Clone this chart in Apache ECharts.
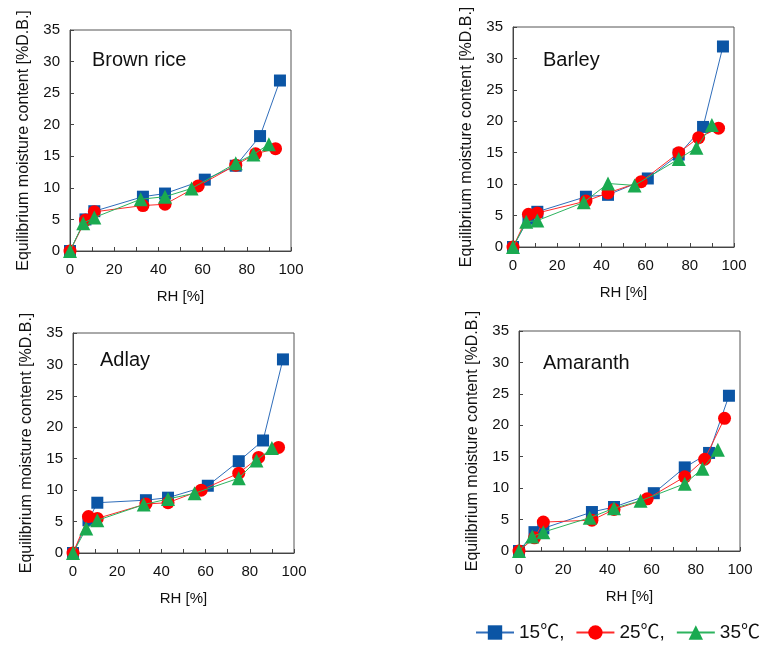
<!DOCTYPE html>
<html><head><meta charset="utf-8">
<script src="https://cdn.jsdelivr.net/npm/echarts@6/dist/echarts.min.js"></script>
<style>html,body{margin:0;padding:0;background:#fff}#c{width:770px;height:648px}</style>
</head><body><div id="c"></div>
<script>
// RH values per temperature
const rh15 = [0, 7, 11, 33, 43, 61, 75, 86, 95];
const rh25 = [0, 7, 11, 33, 43, 58, 75, 84, 93];
const rh35 = [0, 6, 11, 32, 43, 55, 75, 83, 90];
// Brown rice
const br15 = [0, 5.0, 6.3, 8.6, 9.1, 11.3, 13.5, 18.2, 27.0];
const br25 = [0, 4.9, 6.2, 7.2, 7.4, 10.3, 13.6, 15.4, 16.2];
const br35 = [0, 4.4, 5.3, 8.2, 8.6, 9.9, 13.9, 15.3, 16.9];
// Barley
const ba15 = [0, 4.5, 5.6, 8.0, 8.3, 10.9, 14.7, 19.1, 31.9];
const ba25 = [0, 5.2, 5.4, 7.3, 8.6, 10.4, 15.0, 17.4, 18.9];
const ba35 = [0, 4.0, 4.2, 7.1, 10.1, 9.8, 14.0, 15.8, 19.4];
// Adlay
const ad15 = [0, 5.2, 8.0, 8.4, 8.8, 10.7, 14.6, 17.9, 30.8];
const ad25 = [0, 5.8, 5.5, 7.8, 8.0, 10.0, 12.7, 15.2, 16.8];
const ad35 = [0, 3.9, 5.2, 7.7, 8.6, 9.5, 11.9, 14.7, 16.7];
// Amaranth
const am15 = [0, 3.0, 3.6, 6.2, 7.0, 9.2, 13.3, 15.6, 24.7];
const am25 = [0, 2.1, 4.6, 4.9, 6.6, 8.3, 11.8, 14.6, 21.1];
const am35 = [0, 2.3, 3.0, 5.3, 6.8, 8.0, 10.7, 13.1, 16.1];

const panelNames = ['Brown rice', 'Barley', 'Adlay', 'Amaranth'];
const seriesNames = ['15℃,', '25℃,', '35℃'];
const xName = 'RH [%]';
const yName = 'Equilibrium moisture content [%D.B.]';

const panels = [[br15, br25, br35], [ba15, ba25, ba35], [ad15, ad25, ad35], [am15, am25, am35]];
const rhs = [rh15, rh25, rh35];

const grids = [
  {left: 70, top: 30, width: 221, height: 221},
  {left: 513, top: 27, width: 221, height: 220},
  {left: 73, top: 333, width: 221, height: 220},
  {left: 519, top: 331, width: 221, height: 220}
];
const titlePos = [[92, 60], [543, 60], [100, 360], [543, 363]];

const font = 'Liberation Sans, Arial, Noto Sans CJK JP, sans-serif';
const styles = [
  {symbol: 'rect', size: 12, color: '#0B55A5', line: '#2F6DBA'},
  {symbol: 'circle', size: 13, color: '#FF0000', line: '#FF2A2A'},
  {symbol: 'triangle', size: 14, color: '#1AAA50', line: '#2DB35E'}
];

const xAxes = [], yAxes = [], series = [], graphics = [];
grids.forEach((g, i) => {
  g.show = true; g.borderColor = '#555'; g.borderWidth = 1; g.backgroundColor = '#fff';
  xAxes.push({
    type: 'value', gridIndex: i, min: 0, max: 100, interval: 10,
    name: xName, nameLocation: 'middle', nameGap: 38,
    nameTextStyle: {fontSize: 15, color: '#111', fontFamily: font},
    axisLine: {show: true, lineStyle: {color: '#444'}},
    axisTick: {show: true, inside: true, length: 4, lineStyle: {color: '#444'}},
    axisLabel: {fontSize: 15, color: '#111', fontFamily: font, margin: 11,
      formatter: v => (v % 20 === 0 ? String(v) : '')},
    splitLine: {show: false}
  });
  yAxes.push({
    type: 'value', gridIndex: i, min: 0, max: 35, interval: 5,
    name: yName, nameLocation: 'middle', nameGap: 38, nameRotate: 90,
    nameTextStyle: {fontSize: 16, color: '#111', fontFamily: font},
    axisLine: {show: true, lineStyle: {color: '#444'}},
    axisTick: {show: true, inside: true, length: 4, lineStyle: {color: '#444'}},
    axisLabel: {fontSize: 15, color: '#111', fontFamily: font, margin: 10},
    splitLine: {show: false}
  });
  panels[i].forEach((vals, k) => {
    const st = styles[k];
    series.push({
      type: 'line', name: seriesNames[k], xAxisIndex: i, yAxisIndex: i,
      data: rhs[k].map((x, j) => [x, vals[j]]),
      symbol: st.symbol, symbolSize: st.size, showSymbol: true,
      itemStyle: {color: st.color},
      lineStyle: {color: st.line, width: 1},
      z: 2 + k, animation: false
    });
  });
  graphics.push({
    type: 'text', x: titlePos[i][0], y: titlePos[i][1],
    style: {text: panelNames[i], font: '20px ' + font, fill: '#111', textVerticalAlign: 'middle'}
  });
});

const chart = echarts.init(document.getElementById('c'));
chart.setOption({
  animation: false,
  grid: grids, xAxis: xAxes, yAxis: yAxes, series: series, graphic: graphics,
  legend: {
    data: seriesNames, left: 475, top: 623, width: 300, itemWidth: 38, itemHeight: 18, itemGap: 11,
    padding: 0,
    textStyle: {fontSize: 19, color: '#111', fontFamily: font}
  }
});
</script></body></html>
